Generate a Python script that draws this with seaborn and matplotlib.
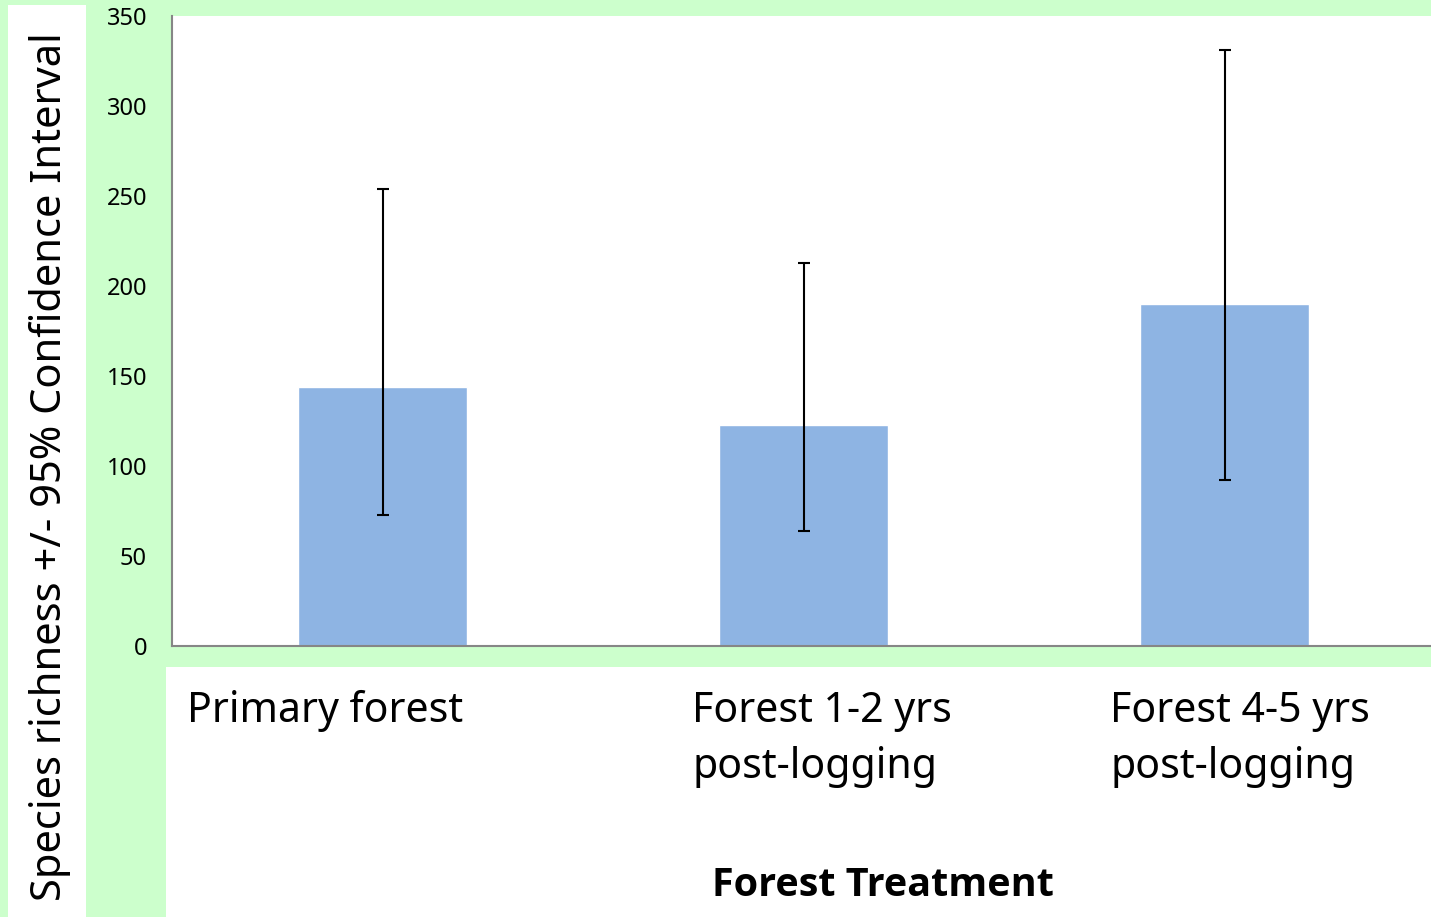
import pandas as pd
import matplotlib
matplotlib.use('Agg')
import matplotlib.pyplot as plt
import seaborn as sns
from matplotlib.patches import Rectangle

## values
treatments = ['Primary forest', 'Forest 1-2 yrs\npost-logging', 'Forest 4-5 yrs\npost-logging']
richness = [144, 123, 190]
ci_low = [73, 64, 92]
ci_high = [254, 213, 331]
y_ticks = [0, 50, 100, 150, 200, 250, 300, 350]

df = pd.DataFrame({'treatment': treatments, 'richness': richness,
                   'low': ci_low, 'high': ci_high})

sns.set_style('white')
plt.rcParams['font.family'] = ['Noto Sans', 'DejaVu Sans']
plt.rcParams['text.color'] = 'black'
plt.rcParams['ytick.labelcolor'] = 'black'

W, H = 1431, 917
fig = plt.figure(figsize=(W / 100, H / 100), dpi=100)
fig.patch.set_facecolor('#CCFFCC')

# white boxes behind y label and category labels
fig.patches.append(Rectangle((8 / W, 0), 78 / W, 1 - 5 / H, transform=fig.transFigure,
                             facecolor='white', edgecolor='none', zorder=0))
fig.patches.append(Rectangle((166 / W, 0), 1 - 166 / W, (H - 667) / H, transform=fig.transFigure,
                             facecolor='white', edgecolor='none', zorder=0))

# plot area runs slightly past the right edge, like the original
ax = fig.add_axes([172 / W, (H - 646) / H, (1435 - 172) / W, (646 - 16) / H])
ax.set_facecolor('white')

sns.barplot(data=df, x='treatment', y='richness', color='#8EB4E3', saturation=1,
            width=0.4, errorbar=None, ax=ax, zorder=2)

yerr = [df['richness'] - df['low'], df['high'] - df['richness']]
ax.errorbar(range(len(df)), df['richness'], yerr=yerr, fmt='none', ecolor='black',
            elinewidth=1.5, capsize=4.3, capthick=1.5, zorder=3)

ax.set_ylim(0, 350)
ax.set_xlim(-0.5, 2.5)
ax.set_yticks(y_ticks)
ax.set_yticklabels([str(v) for v in y_ticks], fontsize=17, color='black')
ax.set_xticks([-0.5, 0.5, 1.5])
ax.set_xticklabels([])
ax.set_xlabel('')
ax.set_ylabel('')

for side in ['top', 'right']:
    ax.spines[side].set_visible(False)
for side in ['left', 'bottom']:
    ax.spines[side].set_color('#868686')
    ax.spines[side].set_linewidth(1.5)
ax.tick_params(axis='both', direction='out', length=7, width=1.2, color='#868686')
ax.tick_params(axis='y', pad=11)

# category labels sit in their own text boxes, left aligned
label_x = [187, 692, 1110]
for lx, lab in zip(label_x, treatments):
    fig.text(lx / W, 1 - 690 / H, lab, ha='left', va='top', fontsize=29.5,
             linespacing=1.45, color='black')

fig.text(883 / W, 1 - 896 / H, 'Forest Treatment', ha='center', va='baseline',
         fontsize=28.5, fontweight='bold', color='black',
         family=['Open Sans', 'Lato', 'DejaVu Sans'])
fig.text(50 / W, 1 - 467 / H, 'Species richness +/- 95% Confidence Interval',
         rotation=90, ha='center', va='center', fontsize=30, color='black')

fig.savefig('out.png', dpi=100, facecolor=fig.get_facecolor())
